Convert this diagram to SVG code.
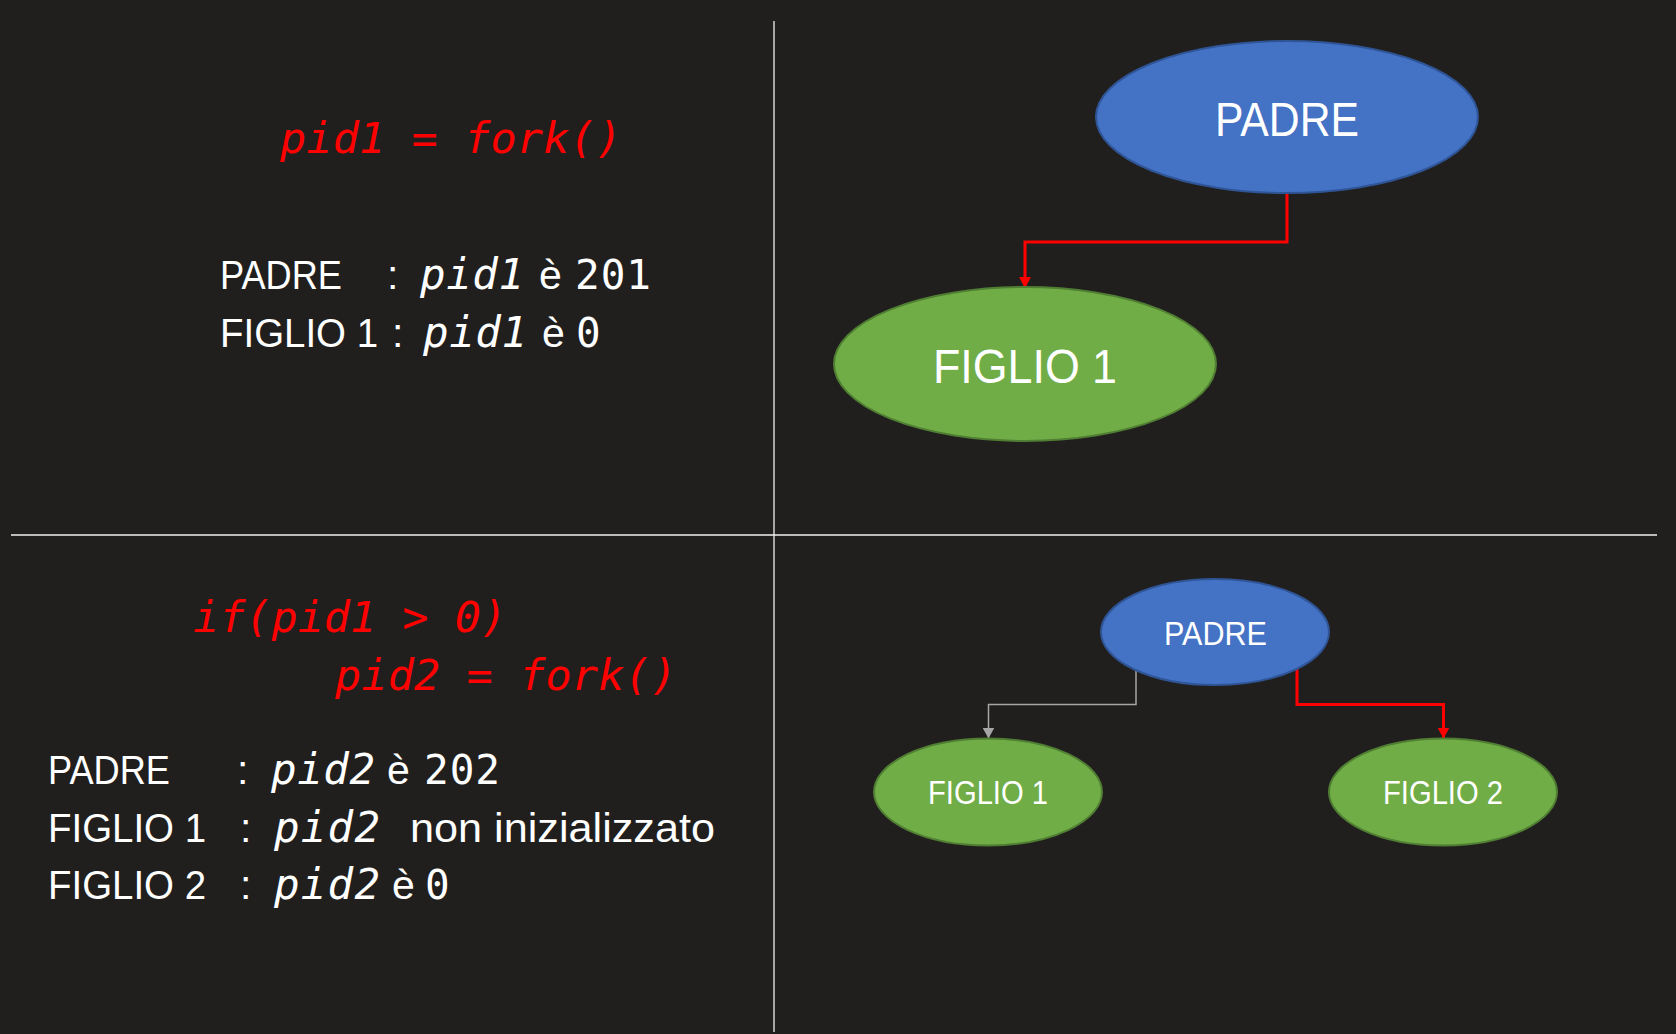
<svg xmlns="http://www.w3.org/2000/svg" width="1676" height="1034" viewBox="0 0 1676 1034">
<style>
.sans{font-family:"Liberation Sans",Arial,sans-serif;fill:#ffffff}
.mono{font-family:"DejaVu Sans Mono","Liberation Mono",monospace}
.it{font-style:italic}
.red{fill:#ff0000}
.wht{fill:#ffffff}
.blue{fill:#4472c4;stroke:#2f5597;stroke-width:2}
.green{fill:#70ad47;stroke:#507e32;stroke-width:2}
.sep{stroke:#f2f2f2;stroke-width:1.3;fill:none}
.cr{stroke:#ff0000;stroke-width:3;fill:none}
.cg{stroke:#a6a6a6;stroke-width:1.5;fill:none}
</style>
<defs>
<marker id="ar" markerUnits="userSpaceOnUse" markerWidth="12" markerHeight="12" refX="11" refY="6" orient="auto" viewBox="0 0 12 12">
<path d="M0,0 L11,6 L0,12 z" fill="#ff0000"/>
</marker>
<marker id="ag" markerUnits="userSpaceOnUse" markerWidth="12" markerHeight="12" refX="11" refY="6" orient="auto" viewBox="0 0 12 12">
<path d="M0,0 L11,6 L0,12 z" fill="#a6a6a6"/>
</marker>
</defs>
<rect x="0" y="0" width="1676" height="1034" fill="#201f1e"/>
<g id="separators">
<line class="sep" x1="774" y1="21" x2="774" y2="1032"/>
<line class="sep" x1="11" y1="535" x2="1657" y2="535"/>
</g>
<g id="connectors">
<path class="cr" d="M1287 193 V242 H1025 V288" marker-end="url(#ar)"/>
<path class="cg" d="M1136 669 V704.5 H988.5 V738.5" marker-end="url(#ag)"/>
<path class="cr" d="M1297 669 V704.5 H1443.5 V738.5" marker-end="url(#ar)"/>
</g>
<g id="code1">
<text class="mono it red" x="280" y="153" font-size="43.5" textLength="342" lengthAdjust="spacing">pid1 = fork()</text>
</g>
<g id="result1">
<text class="sans" x="220" y="289" font-size="41" textLength="122" lengthAdjust="spacingAndGlyphs">PADRE</text>
<text class="sans" x="387" y="289" font-size="41">:</text>
<text class="mono it wht" x="420" y="289" font-size="42.5" textLength="104" lengthAdjust="spacing">pid1</text>
<text class="sans" x="539" y="289" font-size="41">è</text>
<text class="mono wht" x="575" y="289" font-size="41" textLength="76" lengthAdjust="spacing">201</text>
<text class="sans" x="220" y="347" font-size="41" textLength="158" lengthAdjust="spacingAndGlyphs">FIGLIO 1</text>
<text class="sans" x="392" y="347" font-size="41">:</text>
<text class="mono it wht" x="423" y="347" font-size="42.5" textLength="104" lengthAdjust="spacing">pid1</text>
<text class="sans" x="542" y="347" font-size="41">è</text>
<text class="mono wht" x="576" y="347" font-size="41">0</text>
</g>
<g id="code2">
<text class="mono it red" x="193" y="632" font-size="43.5" textLength="314" lengthAdjust="spacing">if(pid1 &gt; 0)</text>
<text class="mono it red" x="335" y="690" font-size="43.5" textLength="342" lengthAdjust="spacing">pid2 = fork()</text>
</g>
<g id="result2">
<text class="sans" x="48" y="784" font-size="41" textLength="122" lengthAdjust="spacingAndGlyphs">PADRE</text>
<text class="sans" x="237" y="784" font-size="41">:</text>
<text class="mono it wht" x="271" y="784" font-size="42.5" textLength="104" lengthAdjust="spacing">pid2</text>
<text class="sans" x="387" y="784" font-size="41">è</text>
<text class="mono wht" x="424" y="784" font-size="41" textLength="76" lengthAdjust="spacing">202</text>
<text class="sans" x="48" y="842" font-size="41" textLength="158" lengthAdjust="spacingAndGlyphs">FIGLIO 1</text>
<text class="sans" x="240" y="842" font-size="41">:</text>
<text class="mono it wht" x="274" y="842" font-size="42.5" textLength="106" lengthAdjust="spacing">pid2</text>
<text class="sans" x="410" y="842" font-size="41" textLength="305" lengthAdjust="spacingAndGlyphs">non inizializzato</text>
<text class="sans" x="48" y="899" font-size="41" textLength="158" lengthAdjust="spacingAndGlyphs">FIGLIO 2</text>
<text class="sans" x="240" y="899" font-size="41">:</text>
<text class="mono it wht" x="274" y="899" font-size="42.5" textLength="106" lengthAdjust="spacing">pid2</text>
<text class="sans" x="392" y="899" font-size="41">è</text>
<text class="mono wht" x="425" y="899" font-size="41">0</text>
</g>
<g id="padre-top">
<ellipse class="blue" cx="1287" cy="117" rx="191" ry="76"/>
<text class="sans" x="1215" y="136" font-size="47.5" textLength="144" lengthAdjust="spacingAndGlyphs">PADRE</text>
</g>
<g id="figlio1-top">
<ellipse class="green" cx="1025" cy="364" rx="191" ry="77"/>
<text class="sans" x="933" y="383" font-size="48" textLength="184" lengthAdjust="spacingAndGlyphs">FIGLIO 1</text>
</g>
<g id="padre-bottom">
<ellipse class="blue" cx="1215" cy="632" rx="114" ry="53"/>
<text class="sans" x="1164" y="645" font-size="34" textLength="103" lengthAdjust="spacingAndGlyphs">PADRE</text>
</g>
<g id="figlio1-bottom">
<ellipse class="green" cx="988" cy="792" rx="114" ry="53.5"/>
<text class="sans" x="928" y="804" font-size="34" textLength="120" lengthAdjust="spacingAndGlyphs">FIGLIO 1</text>
</g>
<g id="figlio2-bottom">
<ellipse class="green" cx="1443" cy="792" rx="114" ry="53.5"/>
<text class="sans" x="1383" y="804" font-size="34" textLength="120" lengthAdjust="spacingAndGlyphs">FIGLIO 2</text>
</g>
</svg>
